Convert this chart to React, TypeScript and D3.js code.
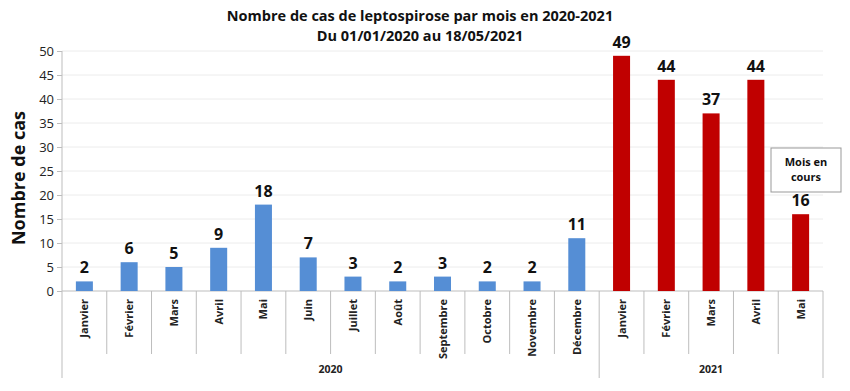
import React, { useRef, useEffect } from "react";
import * as d3 from "d3";

const months2020 = ["Janvier", "Février", "Mars", "Avril", "Mai", "Juin", "Juillet", "Août", "Septembre", "Octobre", "Novembre", "Décembre"];
const cases2020 = [2, 6, 5, 9, 18, 7, 3, 2, 3, 2, 2, 11];
const months2021 = ["Janvier", "Février", "Mars", "Avril", "Mai"];
const cases2021 = [49, 44, 37, 44, 16];
const yTicks = [0, 5, 10, 15, 20, 25, 30, 35, 40, 45, 50];

const W = 850;
const H = 391;
const FONT = "'Open Sans', 'Noto Sans', sans-serif";

const App: React.FC = () => {
  const svgRef = useRef<SVGSVGElement | null>(null);

  useEffect(() => {
    const rows = [
      ...months2020.map((m, i) => ({ key: `2020-${i}`, month: m, value: cases2020[i], year: "2020" })),
      ...months2021.map((m, i) => ({ key: `2021-${i}`, month: m, value: cases2021[i], year: "2021" })),
    ];

    const left = 62, right = 823, top = 51, bottom = 291;

    const svg = d3.select(svgRef.current);
    svg.selectAll("*").remove();

    const x = d3.scaleBand<string>().domain(rows.map((d) => d.key)).range([left, right]).paddingInner(0.62).paddingOuter(0.31);
    const y = d3.scaleLinear().domain([0, 50]).range([bottom, top]);
    const step = x.step();
    const bandStart = (k: string) => x(k)! - (step - x.bandwidth()) / 2;

    // gridlines
    svg.append("g")
      .selectAll("line")
      .data(yTicks.slice(1))
      .enter()
      .append("line")
      .attr("x1", left)
      .attr("x2", right)
      .attr("y1", (d) => y(d))
      .attr("y2", (d) => y(d))
      .attr("stroke", "#ececec")
      .attr("stroke-width", 1);

    // y axis
    const yAxis = svg.append("g")
      .attr("transform", `translate(${left},0)`)
      .call(d3.axisLeft(y).tickValues(yTicks).tickSize(5).tickPadding(3));
    yAxis.select(".domain").remove();
    yAxis.selectAll(".tick line").attr("stroke", "#bdbdbd");
    yAxis.selectAll(".tick text").attr("font-family", FONT).attr("font-size", 13).attr("fill", "#222");
    svg.append("line").attr("x1", left).attr("x2", left).attr("y1", top).attr("y2", 378).attr("stroke", "#bdbdbd");

    // x baseline
    svg.append("line").attr("x1", left).attr("x2", right).attr("y1", bottom).attr("y2", bottom).attr("stroke", "#bdbdbd");

    // month separators
    svg.append("g")
      .selectAll("line")
      .data(rows.slice(1))
      .enter()
      .append("line")
      .attr("x1", (d) => bandStart(d.key))
      .attr("x2", (d) => bandStart(d.key))
      .attr("y1", bottom)
      .attr("y2", (d) => (d.key === "2021-0" ? 378 : 354))
      .attr("stroke", "#bdbdbd");
    svg.append("line").attr("x1", right).attr("x2", right).attr("y1", bottom).attr("y2", 378).attr("stroke", "#bdbdbd");

    // month labels
    svg.append("g")
      .selectAll("text")
      .data(rows)
      .enter()
      .append("text")
      .attr("transform", (d) => `translate(${x(d.key)! + x.bandwidth() / 2 + 4},299) rotate(-90)`)
      .attr("text-anchor", "end")
      .attr("font-family", FONT)
      .attr("font-weight", "bold")
      .attr("font-size", 11)
      .attr("fill", "#222")
      .text((d) => d.month);

    // year labels
    const firstKey = (yr: string) => rows.find((r) => r.year === yr)!.key;
    const startX = (yr: string) => (yr === "2020" ? left : bandStart(firstKey(yr)));
    const endX = (yr: string) => (yr === "2020" ? bandStart(firstKey("2021")) : right);
    svg.append("g")
      .selectAll("text")
      .data(["2020", "2021"])
      .enter()
      .append("text")
      .attr("x", (d) => (startX(d) + endX(d)) / 2)
      .attr("y", 373)
      .attr("text-anchor", "middle")
      .attr("font-family", FONT)
      .attr("font-weight", "bold")
      .attr("font-size", 10.5)
      .attr("fill", "#222")
      .text((d) => d);

    // bars
    svg.append("g")
      .selectAll("rect")
      .data(rows)
      .enter()
      .append("rect")
      .attr("x", (d) => x(d.key)!)
      .attr("y", (d) => y(d.value))
      .attr("width", x.bandwidth())
      .attr("height", (d) => y(0) - y(d.value))
      .attr("fill", (d) => (d.year === "2020" ? "#558ED5" : "#C00000"));

    // value labels
    svg.append("g")
      .selectAll("text")
      .data(rows)
      .enter()
      .append("text")
      .attr("x", (d) => x(d.key)! + x.bandwidth() / 2)
      .attr("y", (d) => y(d.value) - 8)
      .attr("text-anchor", "middle")
      .attr("font-family", FONT)
      .attr("font-weight", "bold")
      .attr("font-size", 16)
      .attr("fill", "#111")
      .text((d) => d.value);

    // annotation
    const ann = svg.append("g");
    ann.append("rect").attr("x", 771).attr("y", 148).attr("width", 70).attr("height", 44)
      .attr("fill", "#fff").attr("stroke", "#999");
    ann.append("text").attr("x", 806).attr("y", 166).attr("text-anchor", "middle")
      .attr("font-family", FONT).attr("font-weight", "bold").attr("font-size", 11).attr("fill", "#111").text("Mois en");
    ann.append("text").attr("x", 806).attr("y", 181).attr("text-anchor", "middle")
      .attr("font-family", FONT).attr("font-weight", "bold").attr("font-size", 11).attr("fill", "#111").text("cours");

    // titles
    svg.append("text").attr("x", 420).attr("y", 21).attr("text-anchor", "middle")
      .attr("font-family", FONT).attr("font-weight", "bold").attr("font-size", 14.5).attr("fill", "#111")
      .text("Nombre de cas de leptospirose par mois en 2020-2021");
    svg.append("text").attr("x", 420).attr("y", 41).attr("text-anchor", "middle")
      .attr("font-family", FONT).attr("font-weight", "bold").attr("font-size", 14.5).attr("fill", "#111")
      .text("Du 01/01/2020 au 18/05/2021");

    svg.append("text").attr("transform", "translate(25,178) rotate(-90)").attr("text-anchor", "middle")
      .attr("font-family", FONT).attr("font-weight", "bold").attr("font-size", 18).attr("fill", "#111")
      .text("Nombre de cas");
  }, []);

  return <svg ref={svgRef} width={W} height={H} style={{ position: "absolute", left: 0, top: 0, background: "#fff" }} />;
};

export default App;
